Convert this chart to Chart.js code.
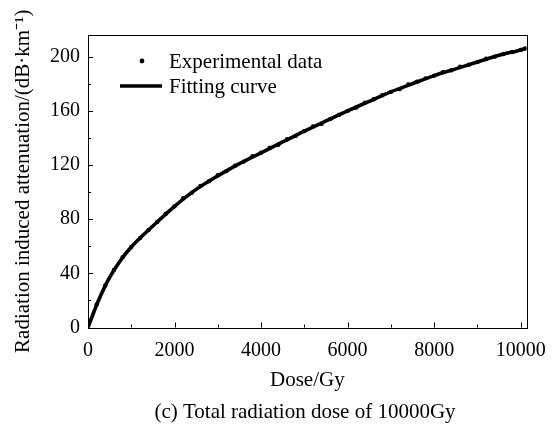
<!DOCTYPE html>
<html>
<head>
<meta charset="utf-8">
<script src="https://cdn.jsdelivr.net/npm/chart.js@4.4.1/dist/chart.umd.min.js"></script>
<style>
  html, body { margin: 0; padding: 0; background: #fff; }
  #wrap { width: 557px; height: 424px; }
</style>
</head>
<body>
<div id="wrap"><canvas id="c" width="557" height="424"></canvas></div>
<script>
// ---- Data ----
const expDose = [0,200,400,600,800,1000,1200,1400,1600,1800,2000,2200,2400,2600,2800,3000,3200,3400,3600,3800,4000,4200,4400,4600,4800,5000,5200,5400,5600,5800,6000,6200,6400,6600,6800,7000,7200,7400,7600,7800,8000,8200,8400,8600,8800,9000,9200,9400,9600,9800,10000,10100];
const expAttn = [0,17,31,42.5,52,59.5,66,72,78,84,89.5,95.5,99.5,104.5,108,112.5,115.5,119.5,122.5,126.5,129,132.5,135,139,141.5,145,148.5,150.5,154,157,160,162.5,166,168.5,171.5,174,176,179.5,181.5,184,186,188.5,190,192.5,194,196,198.5,200,202,203.5,205,206];
const fitDose = [0,100,250,500,750,1000,1500,2000,2500,3000,3500,4000,4500,5000,5500,6000,6500,7000,7500,8000,8500,9000,9500,10000,10100];
const fitAttn = [0,8.5,20.5,37,49.5,59.5,75,89.5,102,112,121,129,137,145,152.5,160,167,174,180,186,191,196,201,205,206];
const xTicks = [0,2000,4000,6000,8000,10000];
const yTicks = [0,40,80,120,160,200];
const legendLabels = ['Experimental data','Fitting curve'];
const xTitle = 'Dose/Gy';
const yTitle = 'Radiation induced attenuation/(dB\u00b7km\u207b\u00b9)';
const caption = '(c) Total radiation dose of 10000Gy';

const FONT = '"Liberation Serif", "Times New Roman", serif';

const framePlugin = {
  id: 'frame',
  afterDraw(chart) {
    const ctx = chart.ctx;
    const a = chart.chartArea;
    const xs = chart.scales.x, ys = chart.scales.y;
    ctx.save();
    ctx.strokeStyle = '#000';
    ctx.lineWidth = 1;
    ctx.strokeRect(Math.round(a.left) + 0.5, Math.round(a.top) + 0.5,
                   Math.round(a.right - a.left), Math.round(a.bottom - a.top));
    ctx.beginPath();
    for (let v = 0; v <= xs.max; v += 1000) {
      const px = Math.round(xs.getPixelForValue(v)) + 0.5;
      const len = (v % 2000 === 0) ? 5 : 3;
      ctx.moveTo(px, a.bottom);
      ctx.lineTo(px, a.bottom - len);
    }
    for (let v = 0; v <= ys.max; v += 20) {
      const py = Math.round(ys.getPixelForValue(v)) + 0.5;
      const len = (v % 40 === 0) ? 5 : 3;
      ctx.moveTo(a.left, py);
      ctx.lineTo(a.left + len, py);
    }
    ctx.stroke();

    // legend
    const ds = chart.data.datasets;
    ctx.fillStyle = '#000';
    ctx.font = '21px ' + FONT;
    ctx.textBaseline = 'middle';
    ctx.textAlign = 'left';
    ctx.beginPath();
    ctx.arc(142, 61, 2.4, 0, Math.PI * 2);
    ctx.fill();
    ctx.fillText(ds[0].label, 169, 62);
    ctx.beginPath();
    ctx.lineWidth = 3.5;
    ctx.moveTo(120, 86);
    ctx.lineTo(162, 86);
    ctx.stroke();
    ctx.fillText(ds[1].label, 169, 87);

    // caption under the chart
    ctx.textAlign = 'center';
    ctx.textBaseline = 'alphabetic';
    ctx.fillText(caption, 305, 418);
    ctx.restore();
  }
};

new Chart(document.getElementById('c'), {
  type: 'scatter',
  data: {
    datasets: [
      {
        label: legendLabels[0],
        data: expDose.map((d, i) => ({ x: d, y: expAttn[i] })),
        showLine: false,
        pointRadius: 2.2,
        pointBackgroundColor: '#000',
        pointBorderWidth: 0,
        order: 2
      },
      {
        label: legendLabels[1],
        data: fitDose.map((d, i) => ({ x: d, y: fitAttn[i] })),
        showLine: true,
        borderColor: '#000',
        borderWidth: 3.6,
        pointRadius: 0,
        cubicInterpolationMode: 'monotone',
        order: 1
      }
    ]
  },
  options: {
    responsive: false,
    animation: false,
    layout: { padding: { top: 35, right: 24, left: 0, bottom: 31 } },
    plugins: {
      legend: { display: false },
      tooltip: { enabled: false },
      title: { display: false }
    },
    scales: {
      x: {
        type: 'linear',
        min: 0,
        max: 10140,
        afterBuildTicks: s => { s.ticks = xTicks.map(v => ({ value: v })); },
        afterFit: s => { s.height = 65.5; },
        grid: { display: false, drawTicks: false },
        border: { display: false },
        ticks: { color: '#000', font: { family: FONT, size: 20 }, padding: 11, maxRotation: 0, autoSkip: false,
                 callback: v => String(v) },
        title: { display: true, text: xTitle, color: '#000', font: { family: FONT, size: 21 }, padding: { top: 2, bottom: 0 } }
      },
      y: {
        type: 'linear',
        min: 0,
        max: 216,
        afterBuildTicks: s => { s.ticks = yTicks.map(v => ({ value: v })); },
        afterFit: s => { s.width = 88; },
        grid: { display: false, drawTicks: false },
        border: { display: false },
        ticks: { color: '#000', font: { family: FONT, size: 20 }, padding: 8, callback: v => String(v) },
        title: { display: true, text: yTitle, color: '#000', font: { family: FONT, size: 21 }, padding: { top: 11, bottom: 0 } }
      }
    }
  },
  plugins: [framePlugin]
});
</script>
</body>
</html>
